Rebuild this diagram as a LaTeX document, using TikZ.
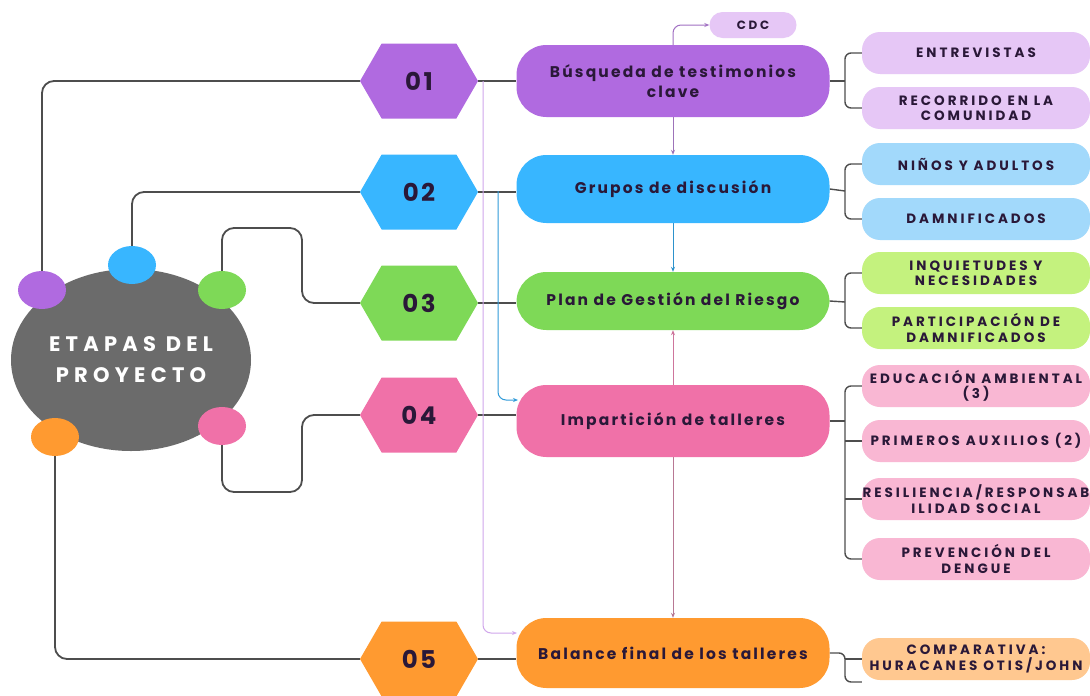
\documentclass[tikz,border=0pt]{standalone}
\usepackage{fontspec}
\setmainfont{Poppins}
\newfontfamily\boxfont[LetterSpace=14]{Poppins}
\newfontfamily\subfont[LetterSpace=22]{Poppins}
\newfontfamily\bigfont[LetterSpace=25]{Poppins}
\newfontfamily\hexfont[LetterSpace=10]{Poppins}
\usetikzlibrary{shapes.geometric,shapes.symbols,shapes.misc,arrows.meta,backgrounds}
\definecolor{purD}{HTML}{B06AE0}
\definecolor{purL}{HTML}{E6C7F6}
\definecolor{bluD}{HTML}{38B6FF}
\definecolor{bluL}{HTML}{A2D9FB}
\definecolor{grnD}{HTML}{7ED957}
\definecolor{grnL}{HTML}{C4F27E}
\definecolor{pnkD}{HTML}{F071A8}
\definecolor{pnkL}{HTML}{F9B7D3}
\definecolor{orgD}{HTML}{FF9A30}
\definecolor{orgL}{HTML}{FFC890}
\definecolor{hub}{HTML}{6B6B6B}
\definecolor{conn}{HTML}{4D4D4D}
\definecolor{txt}{HTML}{2A1838}
\begin{document}
\begin{tikzpicture}[x=1pt,y=-1pt,
  hexa/.style={shape=signal, signal to=east and west, signal pointer angle=120,
    minimum width=118pt, minimum height=75pt, inner sep=0pt, text=txt,
    font=\hexfont\bfseries\fontsize{24.5}{24.5}\selectfont},
  pill/.style={rounded corners=30pt, minimum width=313pt, minimum height=72pt,
    inner sep=0pt, align=center, text=txt,
    font=\boxfont\bfseries\fontsize{15.5}{20}\selectfont},
  sub/.style={rounded corners=18pt, minimum width=228pt, minimum height=42pt,
    inner sep=0pt, align=center, text=txt,
    font=\subfont\bfseries\fontsize{13.5}{15.5}\selectfont},
  dot/.style={ellipse, minimum width=48pt, minimum height=38pt, inner sep=0pt},
  link/.style={draw=conn, line width=1.8pt, rounded corners=12pt},
  brk/.style={draw=conn, line width=1.4pt, rounded corners=6pt},
  thin/.style={line width=1pt, rounded corners=8pt},
  tip/.style={-{Stealth[length=5pt,width=4pt]}}
]
\clip (0,0) rectangle (1090,696);

% hub
\node (hub) [ellipse, fill=hub, minimum width=240pt, minimum height=182pt, inner sep=0pt,
  text=white, align=center, font=\bigfont\bfseries\fontsize{21}{31}\selectfont]
  at (131,360) {ETAPAS DEL\\PROYECTO};
\node (dP) [dot, fill=purD] at (42,290) {};
\node (dB) [dot, fill=bluD] at (132,265) {};
\node (dG) [dot, fill=grnD] at (222,290) {};
\node (dK) [dot, fill=pnkD] at (222,426) {};
\node (dO) [dot, fill=orgD] at (55,437) {};

% hexagons
\node (h1) [hexa, fill=purD] at (419,81) {01};
\node (h2) [hexa, fill=bluD] at (419,192) {02};
\node (h3) [hexa, fill=grnD] at (419,303) {03};
\node (h4) [hexa, fill=pnkD] at (419,415) {04};
\node (h5) [hexa, fill=orgD] at (419,659) {05};

% main boxes
\node (b1) [pill, fill=purD] at (673,81) {Búsqueda de testimonios\\clave};
\node (b2) [pill, fill=bluD, minimum height=68pt] at (673,189) {Grupos de discusión};
\node (b3) [pill, fill=grnD, minimum height=58pt] at (673,301) {Plan de Gestión del Riesgo};
\node (b4) [pill, fill=pnkD] at (673,421) {Impartición de talleres};
\node (b5) [pill, fill=orgD, minimum height=70pt] at (673,653) {Balance final de los talleres};

\node (cdc) [sub, fill=purL, minimum width=87pt, minimum height=26pt, rounded corners=13pt,
  font=\subfont\bfseries\fontsize{12}{14}\selectfont] at (753,25) {CDC};

% sub nodes
\node (c1) [sub, fill=purL] at (976,53) {ENTREVISTAS};
\node (c2) [sub, fill=purL] at (976,108) {RECORRIDO EN LA\\COMUNIDAD};
\node (c3) [sub, fill=bluL] at (976,164) {NIÑOS Y ADULTOS};
\node (c4) [sub, fill=bluL] at (976,219) {DAMNIFICADOS};
\node (c5) [sub, fill=grnL] at (976,273) {INQUIETUDES Y\\NECESIDADES};
\node (c6) [sub, fill=grnL] at (976,328) {PARTICIPACIÓN DE\\DAMNIFICADOS};
\node (c7) [sub, fill=pnkL] at (976,386) {EDUCACIÓN AMBIENTAL\\(3)};
\node (c8) [sub, fill=pnkL] at (976,441) {PRIMEROS AUXILIOS (2)};
\node (c9) [sub, fill=pnkL] at (976,499) {RESILIENCIA/RESPONSAB\\ILIDAD SOCIAL};
\node (c10) [sub, fill=pnkL] at (976,559) {PREVENCIÓN DEL\\DENGUE};
\node (c11) [sub, fill=orgL] at (976,659) {COMPARATIVA:\\HURACANES OTIS/JOHN};

\coordinate (g1) at (302,228);
\coordinate (g2) at (302,492);
\coordinate (j1) at (483,81);
\coordinate (j2) at (498,191);
\coordinate (e5) at (517,633);
\coordinate (e4) at (518,400);
\coordinate (up) at (673,25);
\coordinate (k1) at (845,81);
\coordinate (k2) at (845,191);
\coordinate (k3) at (845,302);
\coordinate (k4) at (845,421);
\coordinate (k5) at (845,682);
\coordinate (k5b) at (845,659);

\begin{scope}[on background layer]
  \fill[white] (0,0) rectangle (1090,696);
  % hub to hexagons
  \draw[link] (dP.center) |- (h1.west);
  \draw[link] (dB.center) |- (h2.west);
  \draw[link] (dG.center) |- (g1) |- (h3.west);
  \draw[link] (dK.center) |- (g2) |- (h4.west);
  \draw[link] (dO.center) |- (h5.west);
  % hexagons to boxes
  \draw[link] (h1.east) -- (b1.west);
  \draw[link] (h2.east) -- (h2.east -| b2.west);
  \draw[link] (h3.east) -- (h3.east -| b3.west);
  \draw[link] (h4.east) -- (h4.east -| b4.west);
  \draw[link] (h5.east) -- (h5.east -| b5.west);
  % thin coloured lines
  \draw[thin, tip, draw=purD!60] (j1) |- (e5);
  \draw[thin, tip, draw=bluD!85!black] (j2) |- (e4);
  \draw[thin, tip, draw=purD!70!gray] (b1.north) -- (up) -- (cdc.west);
  \draw[thin, tip, draw=purD!60!gray] (b1.south) -- (b2.north);
  \draw[thin, tip, draw=bluD!80!black] (b2.south) -- (b3.north);
  \draw[thin, tip, draw=pnkD!70!gray] (b4.north) -- (b3.south);
  \draw[thin, tip, draw=pnkD!50!gray] (b4.south) -- (b5.north);
  % brackets
  \draw[brk] (b1.east) -- (k1);
  \draw[brk] (c1.west) -| (k1) |- (c2.west);
  \draw[brk] (b2.east) -- (k2);
  \draw[brk] (c3.west) -| (k2) |- (c4.west);
  \draw[brk] (b3.east) -- (k3);
  \draw[brk] (c5.west) -| (k3) |- (c6.west);
  \draw[brk] (b4.east) -- (k4);
  \draw[brk] (c7.west) -| (k4) |- (c10.west);
  \draw[brk] (c8.west) -- (c8.west -| k4);
  \draw[brk] (c9.west) -- (c9.west -| k4);
  \draw[brk] (b5.east) -| (k5) -- (k5 -| c11.west);
  \draw[brk] (k5b) -- (c11.west);
\end{scope}
\end{tikzpicture}
\end{document}
